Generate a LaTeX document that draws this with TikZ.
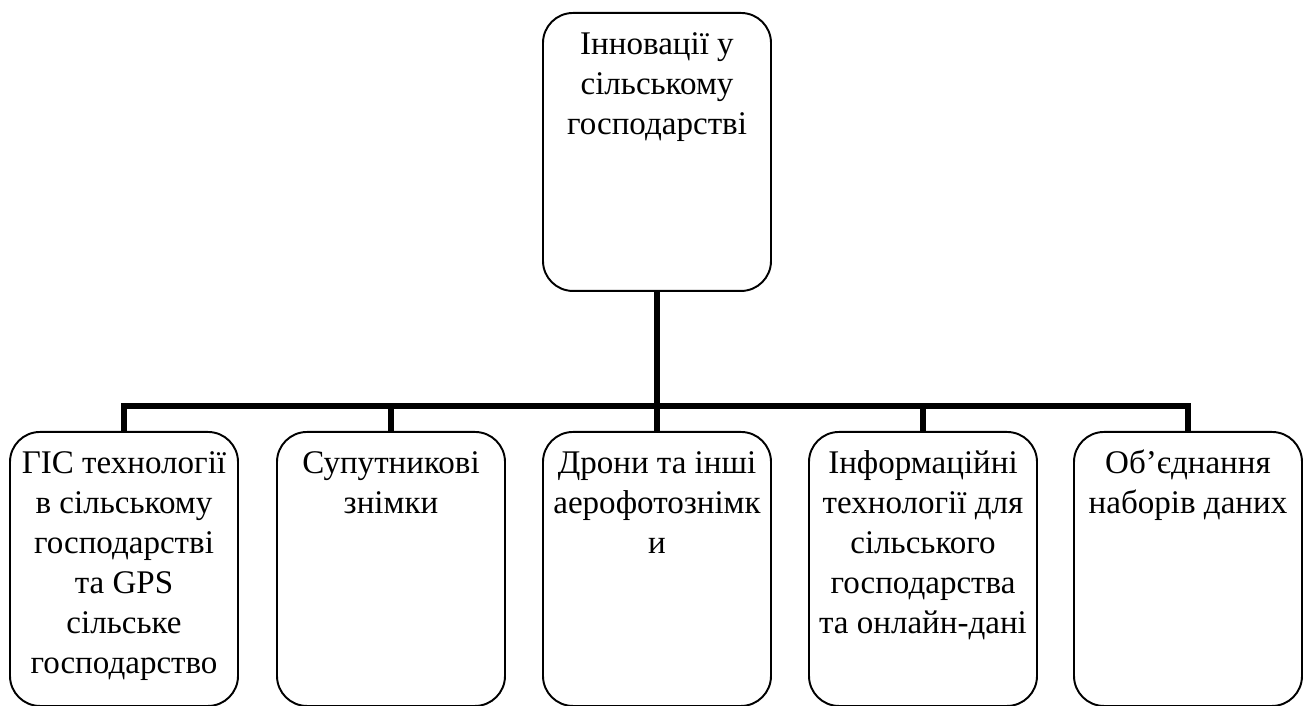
\documentclass[tikz,border=0pt]{standalone}
\usepackage{fontspec}
\setmainfont{Liberation Serif}
\usepackage{tikz}
\usetikzlibrary{positioning, calc}

\newcommand{\boxlines}[2]{\parbox[t][#1][t]{4.4cm}{\centering\strut #2}}

\tikzset{
  block/.style={draw=black, line width=1.1pt, rounded corners=0.6cm,
    minimum width=4.56cm, inner xsep=0.08cm, inner ysep=0.27cm, anchor=north,
    font=\fontsize{18.8}{22.8}\selectfont},
  link/.style={draw=black, line width=3.2pt}
}

\begin{document}
\begin{tikzpicture}
        \useasboundingbox (0,0) rectangle (26.2,-14.12);

        % --- Top Block ---
        \node[block] (innov) at (13.14,-0.24) {\boxlines{5.02cm}{Інновації у\\ сільському\\ господарстві}};

        % --- Bottom Blocks ---
        \node[block] (gis) at (2.48,-8.62) {\boxlines{4.94cm}{ГІС технології\\ в сільському\\ господарстві\\ та GPS\\ сільське\\ господарство}};
        \node[block] (sat) at (7.82,-8.62) {\boxlines{4.94cm}{Супутникові\\ знімки}};
        \node[block] (drone) at (13.14,-8.62) {\boxlines{4.94cm}{Дрони та інші\\ аерофотознімк\\ и}};
        \node[block] (info) at (18.46,-8.62) {\boxlines{4.94cm}{Інформаційні\\ технології для\\ сільського\\ господарства\\ та онлайн-дані}};
        \node[block] (merge) at (23.76,-8.62) {\boxlines{4.94cm}{Об’єднання\\ наборів даних}};

        % --- Connectors ---
        \coordinate (bus) at (13.14,-8.12);
        \draw[link] (innov.south) -- (bus);
        \draw[link] (gis.north) |- (bus);
        \draw[link] (sat.north) |- (bus);
        \draw[link] (drone.north) -- (bus);
        \draw[link] (info.north) |- (bus);
        \draw[link] (merge.north) |- (bus);
    \end{tikzpicture}
\end{document}
